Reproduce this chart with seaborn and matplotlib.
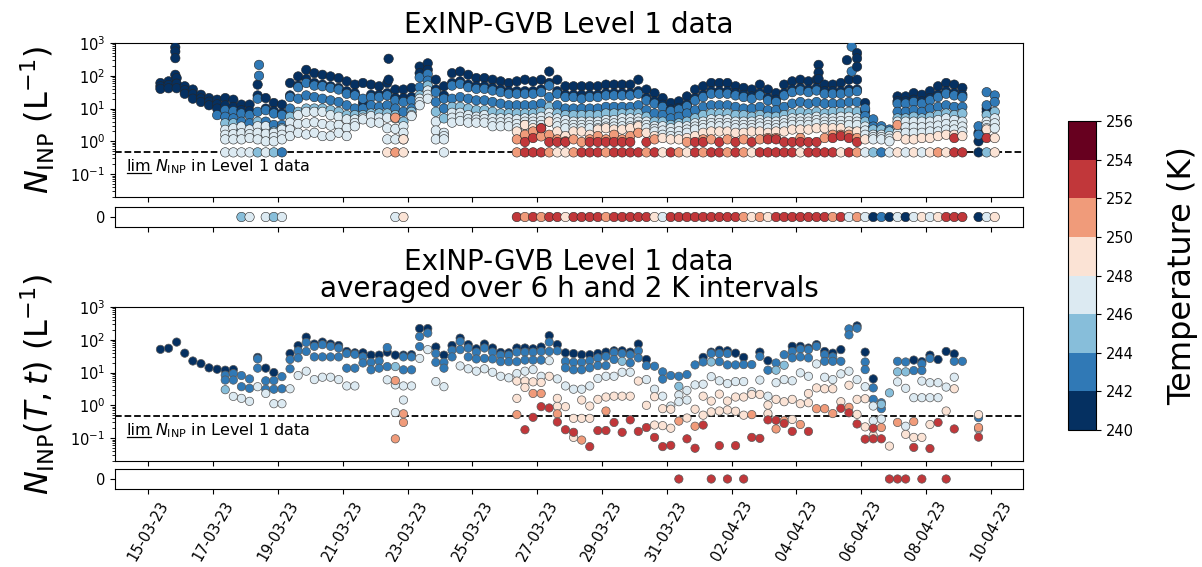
import numpy as np
import pandas as pd
import matplotlib
matplotlib.use("Agg")
import matplotlib.pyplot as plt
import matplotlib.dates as mdates
from matplotlib.colors import BoundaryNorm
from matplotlib.cm import ScalarMappable
import seaborn as sns

_ = np.nan
LIM = 0.46  # lower detection limit of N_INP in Level 1 data (L^-1)

# ---------------- Level 1 data (top panel): log10 N_INP per 6-h slot, per temperature level
l1_nh = [1.78, 1.83, 1.93, 1.68, 1.58, 1.42, 1.32, 1.27, 1.32, 1.27,
         1.12, 1.12, 1.73, 1.32, 1.17, 1.12, 1.78, 1.98, 2.18, 2.08,
         2.03, 1.98, 1.93, 1.83, 1.73, 1.78, 1.73, 1.68, 1.78, 1.58,
         1.58, 1.63, 2.28, 2.38, 1.88, 1.68, 2.08, 2.13, 2.03, 1.93,
         1.93, 1.88, 1.83, 1.78, 1.83, 1.88, 1.83, 1.88, 2.13, 1.88,
         1.68, 1.68, 1.68, 1.68, 1.68, 1.73, 1.73, 1.73, 1.73, 1.88,
         1.58, 1.47, 1.32, 1.17, 1.22, 1.37, 1.58, 1.68, 1.78, 1.78,
         1.78, 1.68, 1.63, 1.58, 1.73, 1.58, 1.47, 1.73, 1.83, 1.88,
         1.83, 1.88, 1.73, 1.73, 1.78, 1.88, 1.88, 1.17, _, _,
         _, 1.37, 1.37, 1.47, 1.42, 1.53, 1.68, 1.78, 1.73, 1.63,
         _, 0.26, 1.0, _]
l1_nm = [1.68, 1.72, 1.76, 1.56, 1.44, 1.31, 1.21, 1.13, _, _,
         _, _, _, _, _, _, _, _, _, _,
         _, _, _, _, _, _, _, _, _, _,
         _, _, _, _, _, _, _, _, _, _,
         _, _, _, _, _, _, _, _, _, _,
         _, _, _, _, _, _, _, _, _, _,
         _, _, _, _, _, _, _, _, _, _,
         _, _, _, _, _, _, _, _, _, _,
         _, _, _, _, _, _, _, _, _, _,
         _, _, _, _, _, _, _, _, _, _,
         _, _, _, _]
l1_nl = [1.60, 1.62, 1.62, 1.45, 1.30, 1.20, 1.10, 1.00, 1.10, 1.05,
         0.95, 0.92, 1.40, 1.00, 0.92, 0.85, 1.40, 1.70, 1.90, 1.78,
         1.73, 1.68, 1.63, 1.53, 1.47, 1.17, 1.42, 1.42, 1.47, 1.32,
         1.32, 1.35, 2.08, 2.18, 1.58, 1.40, 1.78, 1.83, 1.73, 1.68,
         1.68, 1.63, 1.58, 1.53, 1.53, 1.53, 1.53, 1.58, 1.78, 1.53,
         1.42, 1.42, 1.42, 1.42, 1.42, 1.47, 1.47, 1.47, 1.47, 1.53,
         1.32, 1.22, 1.12, 0.97, 1.02, 1.12, 1.32, 1.42, 1.53, 1.53,
         1.53, 1.47, 1.42, 1.37, 1.47, 1.32, 1.27, 1.47, 1.58, 1.63,
         1.58, 1.63, 1.53, 1.53, 1.53, 1.58, 1.58, 0.92, _, _,
         _, 1.22, 1.22, 1.27, 1.22, 1.32, 1.42, 1.53, 1.47, 1.42,
         _, 0.0, 0.9, _]
l1_bh = [_, _, _, _, _, _, _, 0.80, 0.95, 0.92,
         0.85, 0.80, 1.30, 0.95, 0.85, 0.80, 1.35, 1.65, 1.78, 1.70,
         1.68, 1.63, 1.58, 1.45, 1.40, 1.30, 1.35, 1.35, 1.40, 1.25,
         1.20, 1.25, 1.95, 2.05, 1.50, 1.30, 1.70, 1.75, 1.65, 1.60,
         1.60, 1.55, 1.50, 1.45, 1.45, 1.45, 1.45, 1.50, 1.70, 1.45,
         1.35, 1.35, 1.30, 1.35, 1.35, 1.40, 1.40, 1.40, 1.40, 1.45,
         1.25, 1.15, 1.05, 0.92, 0.97, 1.07, 1.25, 1.35, 1.45, 1.45,
         1.45, 1.40, 1.35, 1.30, 1.40, 1.25, 1.20, 1.40, 1.50, 1.55,
         1.50, 1.55, 1.45, 1.45, 1.45, 1.50, 1.53, 1.00, 0.67, 0.46,
         0.36, 1.15, 1.15, 1.20, 1.15, 1.25, 1.35, 1.45, 1.40, 1.35,
         _, 0.46, 1.50, 1.40]
l1_bl = [_, _, _, _, _, _, _, _, 0.75, 0.70,
         0.60, 0.55, 0.90, 0.60, 0.50, 0.50, 1.00, 1.30, 1.40, 1.35,
         1.30, 1.25, 1.20, 1.10, 1.00, 1.00, 1.10, 1.05, 1.10, 1.00,
         0.90, 1.00, 1.65, 1.85, 1.20, 1.00, 1.30, 1.35, 1.30, 1.25,
         1.25, 1.20, 1.15, 1.10, 1.10, 1.10, 1.10, 1.15, 1.35, 1.10,
         1.00, 1.00, 1.00, 1.00, 1.00, 1.05, 1.05, 1.05, 1.05, 1.10,
         0.95, 0.85, 0.80, 0.70, 0.75, 0.85, 0.95, 1.05, 1.10, 1.10,
         1.10, 1.05, 1.00, 1.00, 1.05, 0.95, 0.95, 1.05, 1.15, 1.20,
         1.15, 1.20, 1.15, 1.15, 1.15, 1.20, 1.20, 0.77, 0.45, 0.30,
         _, 0.90, 0.90, 0.95, 0.90, 1.00, 1.05, 1.10, 1.05, 1.05,
         _, 0.20, 1.10, 1.20]
l1_mid = [_, _, _, _, _, _, _, _, 0.55, 0.55,
          0.35, 0.30, 0.60, 0.40, 0.30, 0.40, 0.75, 0.90, 1.00, 1.00,
          1.00, 0.95, 0.90, 0.80, 0.80, 0.80, 0.85, 0.85, 0.85, 0.80,
          0.60, 0.90, 1.40, 1.70, 0.90, 0.70, 1.05, 1.05, 1.00, 0.95,
          0.95, 0.90, 0.85, 0.85, 0.85, 0.85, 0.85, 0.90, 1.05, 0.85,
          0.80, 0.80, 0.80, 0.80, 0.80, 0.85, 0.85, 0.85, 0.85, 0.85,
          0.75, 0.60, 0.60, 0.50, 0.55, 0.60, 0.70, 0.80, 0.85, 0.85,
          0.85, 0.80, 0.80, 0.75, 0.80, 0.75, 0.75, 0.80, 0.85, 0.90,
          0.85, 0.90, 0.85, 0.90, 0.90, 0.90, 0.90, 0.60, 0.36, 0.36,
          0.30, 0.70, 0.70, 0.75, 0.70, 0.75, 0.80, 0.85, 0.80, 0.85,
          _, _, 0.80, 0.90]
l1_lh = [_, _, _, _, _, _, _, _, 0.35, 0.40,
         0.45, 0.36, 0.46, 0.46, 0.26, 0.36, 0.57, 0.80, 0.90, 0.90,
         0.90, 0.80, 0.75, 0.67, 0.67, 0.72, 0.77, 0.72, 0.72, 0.70,
         0.46, 0.80, 1.30, 1.55, 0.60, 0.26, 0.87, 0.87, 0.80, 0.75,
         0.80, 0.70, 0.70, 0.70, 0.67, 0.70, 0.70, 0.75, 0.87, 0.70,
         0.65, 0.60, 0.60, 0.60, 0.60, 0.65, 0.65, 0.70, 0.70, 0.70,
         0.60, 0.46, 0.46, 0.40, 0.46, 0.46, 0.55, 0.60, 0.67, 0.67,
         0.67, 0.60, 0.60, 0.60, 0.65, 0.60, 0.60, 0.65, 0.70, 0.70,
         0.70, 0.75, 0.70, 0.70, 0.75, 0.75, 0.70, 0.45, 0.20, 0.20,
         0.16, 0.60, 0.60, 0.60, 0.60, 0.60, 0.65, 0.70, 0.65, 0.60,
         _, _, 0.60, 0.70]
l1_lm = [_, _, _, _, _, _, _, _, 0.20, 0.22,
         0.25, 0.22, 0.26, 0.23, 0.13, 0.20, 0.36, 0.53, 0.55, 0.58,
         0.53, 0.48, 0.50, 0.41, 0.56, _, _, _, 0.40, 0.38,
         0.26, _, 1.20, 1.42, 0.33, 0.16, 0.72, 0.75, 0.68, 0.66,
         0.68, 0.58, 0.58, 0.58, 0.53, 0.60, 0.60, 0.62, 0.73, 0.58,
         0.52, 0.50, 0.50, 0.50, 0.50, 0.55, 0.55, 0.58, 0.58, 0.60,
         0.50, 0.38, 0.33, 0.28, 0.31, 0.36, 0.45, 0.50, 0.56, 0.56,
         0.56, 0.50, 0.50, 0.50, 0.55, 0.50, 0.50, 0.55, 0.60, 0.60,
         0.60, 0.65, 0.60, 0.60, 0.62, 0.62, 0.60, 0.33, 0.13, 0.13,
         0.08, 0.43, 0.43, 0.43, 0.43, 0.45, 0.48, 0.53, 0.50, 0.45,
         _, _, 0.50, 0.55]
l1_ll = [_, _, _, _, _, _, _, _, 0.06, 0.06,
         0.06, 0.10, 0.06, 0.00, 0.00, 0.06, 0.16, 0.26, 0.21, 0.26,
         0.16, 0.16, 0.26, 0.16, 0.46, 0.67, 0.57, 0.57, 0.06, 0.06,
         0.06, 0.77, 1.10, 1.30, 0.06, 0.06, 0.57, 0.62, 0.57, 0.57,
         0.57, 0.46, 0.46, 0.46, 0.40, 0.50, 0.50, 0.50, 0.60, 0.46,
         0.40, 0.40, 0.40, 0.40, 0.40, 0.45, 0.45, 0.46, 0.46, 0.50,
         0.40, 0.30, 0.20, 0.16, 0.16, 0.26, 0.36, 0.40, 0.46, 0.46,
         0.46, 0.40, 0.40, 0.40, 0.45, 0.40, 0.40, 0.45, 0.50, 0.50,
         0.50, 0.55, 0.50, 0.50, 0.50, 0.50, 0.50, 0.20, 0.06, 0.06,
         0.00, 0.26, 0.26, 0.26, 0.26, 0.30, 0.30, 0.36, 0.36, 0.30,
         _, _, 0.40, 0.40]
l1_pe = [_, _, _, _, _, _, _, _, _, _,
         _, _, _, _, _, _, _, _, _, _,
         _, _, _, _, _, _, _, _, _, _,
         0.06, _, _, _, _, _, _, _, _, _,
         _, _, _, _, 0.30, 0.50, 0.40, 0.40, 0.60, 0.30,
         0.16, 0.30, 0.30, 0.20, 0.36, 0.40, 0.36, 0.36, 0.40, 0.46,
         0.26, 0.16, 0.10, 0.06, 0.06, 0.10, 0.16, 0.26, 0.30, 0.30,
         0.30, 0.26, 0.26, 0.30, 0.30, 0.26, 0.30, 0.30, 0.36, 0.36,
         0.36, 0.40, 0.40, 0.40, 0.40, 0.30, 0.30, 0.06, _, _,
         _, 0.16, 0.06, 0.06, 0.10, 0.10, 0.16, 0.20, 0.20, 0.16,
         _, _, 0.36, 0.10]
l1_sa = [_, _, _, _, _, _, _, _, _, _,
         _, _, _, _, _, _, _, _, _, _,
         _, _, _, _, _, _, _, _, _, 0.72,
         _, _, _, _, _, _, _, _, _, _,
         _, _, _, _, 0.06, 0.20, 0.30, 0.15, 0.20, 0.06,
         0.00, 0.06, -0.02, 0.06, 0.16, 0.06, 0.20, 0.06, 0.16, 0.26,
         _, 0.06, _, _, _, -0.02, _, 0.06, 0.06, _,
         0.06, _, 0.06, _, 0.06, 0.10, 0.10, _, _, 0.10,
         _, _, 0.10, 0.20, 0.20, 0.20, 0.10, _, _, _,
         _, 0.50, _, _, _, _, _, _, _, _,
         _, _, _, _]
l1_re = [_, _, _, _, _, _, _, _, _, _,
         _, _, _, _, _, _, _, _, _, _,
         _, _, _, _, _, _, _, _, _, _,
         _, _, _, _, _, _, _, _, _, _,
         _, _, _, _, _, -0.02, 0.10, 0.40, -0.02, -0.02,
         -0.02, _, _, -0.02, -0.02, -0.02, -0.02, -0.02, -0.02, _,
         -0.02, _, _, _, _, _, -0.02, -0.02, _, -0.02,
         _, -0.02, _, -0.02, _, 0.06, 0.06, -0.02, -0.02, -0.02,
         -0.02, -0.02, _, 0.10, 0.16, 0.10, -0.02, _, _, _,
         _, _, _, _, _, _, _, _, 0.10, _,
         _, _, 0.10, _]
# temperature (K) of Level 1 points sitting at the detection limit, per slot
l1_lim_T = [_, _, _, _, _, _, _, _, 247, 247,
            247, 247, 245, 247, 245, 243, _, _, _, _,
            _, _, _, _, _, _, _, _, 249, 251,
            249, _, _, _, _, 247, _, _, _, _,
            _, _, _, _, 251, 253, 253, 253, 251, 249,
            249, 251, 253, 253, 253, 251, 253, 253, 253, 253,
            251, 253, 249, 253, 251, 249, 253, 251, 253, 253,
            251, 253, 251, 249, 253, 253, 253, 253, 253, 249,
            253, 253, 253, 253, 249, 253, 251, 247, 245, 243,
            247, 249, 247, 249, 247, 249, 251, 249, 253, 253,
            _, 241, 245, 249]
# temperature (K) of Level 1 points with N_INP = 0, per slot
l1_zero_T = [_, _, _, _, _, _, _, _, _, _,
             245, 247, _, 247, 245, 247, _, _, _, _,
             _, _, _, _, _, _, _, _, _, 247,
             249, _, _, _, _, _, _, _, _, _,
             _, _, _, _, 253, 251, 253, 251, 253, 253,
             249, 253, 253, 253, 253, 251, 253, 253, 253, 253,
             253, 249, 247, 253, 253, 253, 253, 253, 253, 253,
             253, 253, 251, 249, 251, 249, 253, 253, 253, 253,
             253, 253, 253, 251, 253, 247, 251, 247, 241, 243,
             241, 247, 241, 247, 249, 247, 249, 253, 253, 253,
             _, 241, 247, 249]
# short spikes in Level 1 data
spike_time = ['2023-03-15 20:00', '2023-03-15 20:00', '2023-03-15 20:00', '2023-03-15 20:00',
              '2023-03-18 10:00', '2023-03-18 10:00', '2023-03-22 10:00', '2023-03-22 10:00',
              '2023-04-04 16:30', '2023-04-04 16:30', '2023-04-04 16:30',
              '2023-04-05 13:30', '2023-04-05 17:00', '2023-04-05 17:00',
              '2023-04-05 21:00', '2023-04-05 21:00', '2023-04-05 21:00']
spike_N = [740, 550, 345, 107, 215, 100, 330, 76, 215, 125, 80, 300, 775, 135, 490, 340, 190]
spike_T = [241, 241, 241, 241, 243, 243, 241, 241, 241, 241, 241, 241, 243, 243, 241, 241, 241]

# ---------------- averaged data (bottom panel): N_INP (L^-1) per 6-h slot and 2-K interval
avg_241 = [51, 55, 85, 39, 22.5, 18.7, 13.9, 12.6, 11.8, 12.3,
           _, _, 29, 13.6, 10, _, 38, 66, 120, 74,
           85, 74, 67, 44, 40, 40, 34, 34, 42, 34,
           34, 35, 220, 220, 60, 34, 67, 112, 71, 53,
           74, 56, 41, 40, 56, 56, 53, 60, 133, 71,
           40, 38, 35, 35, 38, 42, 46, 46, 42, 74,
           25, _, _, _, _, _, _, 29, 42, 48,
           46, 39, 29, _, 42, 23, _, _, 63, 63,
           56, 71, 44, 39, 50, _, 265, 42, 6.4, _,
           _, _, _, 24, 21.5, 34, 25, 44, 37, _,
           _, _]
avg_242 = [_, _, _, _, _, _, _, _, 8.3, 9.3,
           8.1, 6.4, 26, 5.6, 5.7, 7.5, 25, 46, 83, 63,
           71, 63, 56, 38, 36, 30, 20.5, 22.5, 58, _,
           30, 30, 126, 160, 38, 20.5, 48, 89, 56, 42,
           56, 42, 34, 34, 42, 42, 42, 44, 85, 46,
           22, 20.5, 20.5, 23, 28, 31, 41, 38, 35, 46,
           16.3, 15.6, 10.5, 8.1, 7.7, 8.7, 17.1, 21, 38, 38,
           38, _, _, _, 31, _, 19.6, 35, 44, 52,
           50, 63, 35, 30, _, 215, 226, 21, 3.4, 0.79,
           _, 22, 21, 11.5, 18.3, 27, _, _, 22, 22,
           _, 0.42]
avg_243 = [_, _, _, _, _, _, _, _, 5.9, 5.9,
           3.7, 3.3, 13.6, 3.1, 3.1, 3.2, 13, 28, 44, 30,
           30, 30, 30, 13.6, 13.6, 19.6, 12.1, 13.6, 15.2, _,
           12.1, 12.1, 62, _, 20.5, 13.6, 30, 50, 30, 26,
           27, 26, 21.5, 21.5, 21.5, 24, 24, 24, 44, _,
           13.9, 12.1, 12.1, 13.9, 16.3, 16.3, 25, _, 19.6, 28,
           _, _, 6.3, _, _, _, _, _, _, 21.5,
           17.1, 17.1, 17.5, 17.5, _, 11.8, _, _, 28, 30,
           28, _, 22, 22, 22, 141, _, 12.3, 1.52, 1.2,
           _, _, _, _, 11.5, _, _, _, _, _,
           _, _]
avg_245 = [_, _, _, _, _, _, _, _, 3.0, _,
           _, _, _, _, _, _, _, _, _, _,
           _, _, _, _, _, _, _, _, _, 15.2,
           _, _, _, _, _, _, _, _, _, _,
           _, _, _, _, _, _, _, _, _, _,
           _, _, _, _, _, _, _, 22, _, _,
           _, _, _, _, 3.8, _, _, _, 21, _,
           _, _, _, _, _, _, 11.8, 16.7, _, _,
           _, _, _, _, _, _, _, _, _, 1.07,
           2.4, 10.5, 10.5, _, _, _, _, _, _, _,
           _, _]
avg_247 = [_, _, _, _, _, _, _, _, _, 1.87,
           1.63, 1.32, 3.7, 2.3, 1.12, 1.12, 3.2, 8.1, 11, 6.1,
           7.2, 7.2, 6.1, 3.9, 3.9, _, _, _, 6.0, 4.2,
           3.9, 3.9, 27, 50, 5.3, 3.7, _, 15.9, 13, 11,
           13, 10.2, 7.7, 6.9, 9.3, 11, 12.3, 7.7, 23, 6.4,
           3.9, 3.1, 3.1, 3.9, 6.6, 7.7, 7.7, 10.2, 10.2, _,
           6.1, 3.1, 1.9, 0.95, 2.06, 2.85, 4.2, 4.4, 7.5, 5.6,
           4.6, 5.3, 5.3, 2.6, 5.9, 1.9, 4.9, 6.1, 5.6, 9.8,
           7.7, 18.3, 7.2, 6.1, 9.1, 11, 6.1, 3.7, 0.95, 0.38,
           _, 5.2, 3.3, 1.71, 5.5, 4.9, 4.9, 3.6, 7.2, _,
           _, 0.19]
avg_247b = [_, _, _, _, _, _, _, _, _, _,
            _, _, _, _, _, _, _, _, _, _,
            _, _, _, _, _, _, _, _, _, 0.6,
            1.45, _, _, _, _, _, _, _, _, _,
            _, _, _, _, _, _, _, _, _, _,
            _, _, _, _, _, _, _, _, _, _,
            _, _, _, _, 1.29, 1.45, _, _, _, _,
            _, _, _, _, _, _, _, _, _, _,
            _, _, _, _, _, _, _, _, 0.34, _,
            _, _, 0.23, _, 1.71, 1.71, 1.71, _, _, _,
            _, _]
avg_249 = [_, _, _, _, _, _, _, _, _, _,
           _, _, _, _, _, _, _, _, _, _,
           _, _, _, _, _, _, _, _, _, _,
           _, _, _, _, _, _, _, _, _, _,
           _, _, _, _, 5.5, 5.5, 5.2, 5.0, 7.7, 1.63,
           0.91, 0.40, 1.45, 0.95, 1.52, 1.79, 1.9, 1.9, 1.9, 5.5,
           1.0, 1.83, 0.79, 0.76, _, 0.41, 0.76, 1.9, 1.35, 2.2,
           1.35, 1.79, 1.79, 2.15, 2.15, 1.02, 1.52, 1.29, 1.52, 1.12,
           2.3, 3.4, 3.2, 3.2, 1.29, 4.1, 1.52, 1.59, 0.12, _,
           0.057, _, 0.13, 0.105, 0.105, 0.26, _, 0.67, 3.2, _,
           _, 0.52]
avg_249b = [_, _, _, _, _, _, _, _, _, _,
            _, _, _, _, _, _, _, _, _, _,
            _, _, _, _, _, _, _, _, _, _,
            _, _, _, _, _, _, _, _, _, _,
            _, _, _, _, 1.63, 3.5, _, _, _, 0.93,
            _, 0.105, 0.40, 0.40, _, _, _, _, _, _,
            _, 0.25, 0.24, 0.20, _, _, _, 0.5, 0.63, 0.67,
            0.72, 0.66, 0.5, _, _, 0.56, _, _, 0.37, _,
            1.2, _, _, _, _, _, 0.53, 0.22, _, _,
            _, _, _, _, _, _, _, _, _, _,
            _, _]
avg_251 = [_, _, _, _, _, _, _, _, _, _,
           _, _, _, _, _, _, _, _, _, _,
           _, _, _, _, _, _, _, _, _, 5.7,
           0.55, _, _, _, _, _, _, _, _, _,
           _, _, _, _, 0.52, _, 2.3, 2.3, _, 0.55,
           _, _, 0.087, _, _, 0.67, _, _, _, _,
           _, _, _, _, 0.33, _, 0.23, _, _, _,
           _, _, _, 0.52, _, _, 0.19, 0.34, _, 0.26,
           _, 0.79, 0.79, 0.56, _, 0.87, _, _, _, 0.21,
           _, 0.30, _, 0.32, _, _, _, _, _, _,
           _, 0.21]
avg_251b = [_, _, _, _, _, _, _, _, _, _,
            _, _, _, _, _, _, _, _, _, _,
            _, _, _, _, _, _, _, _, _, 0.095,
            0.30, _, _, _, _, _, _, _, _, _,
            _, _, _, _, _, _, _, _, _, _,
            _, _, _, _, _, _, _, _, _, _,
            _, _, _, _, _, _, _, _, _, _,
            _, _, _, _, _, _, _, _, _, _,
            _, _, _, _, _, _, _, _, _, _,
            _, _, _, _, _, _, _, _, _, _,
            _, _]
avg_253 = [_, _, _, _, _, _, _, _, _, _,
           _, _, _, _, _, _, _, _, _, _,
           _, _, _, _, _, _, _, _, _, _,
           _, _, _, _, _, _, _, _, _, _,
           _, _, _, _, _, 0.18, 0.43, 0.91, 0.83, 0.31,
           0.18, 0.15, _, 0.055, 0.17, 0.17, 0.30, 0.15, 0.36, 0.16,
           0.21, 0.105, 0.055, 0.06, _, 0.095, 0.049, 0.25, _, 0.059,
           _, 0.059, _, 0.105, 0.098, 0.36, 0.35, 0.28, 0.16, _,
           0.16, _, _, _, 0.81, 0.59, 0.27, 0.093, 0.20, 0.095,
           _, _, _, 0.052, _, 0.048, 0.30, _, 0.19, _,
           _, 0.107]
avg_253b = [_, _, _, _, _, _, _, _, _, _,
            _, _, _, _, _, _, _, _, _, _,
            _, _, _, _, _, _, _, _, _, _,
            _, _, _, _, _, _, _, _, _, _,
            _, _, _, _, _, _, _, _, _, _,
            _, _, _, _, _, _, _, _, _, _,
            _, _, _, _, _, _, _, _, _, _,
            _, _, _, _, _, _, _, _, _, _,
            _, _, _, _, _, _, _, _, 0.095, _,
            _, _, _, _, _, _, _, _, _, _,
            _, _]
# temperature of averaged points with N_INP = 0
avg_zero_T = [_, _, _, _, _, _, _, _, _, _,
              _, _, _, _, _, _, _, _, _, _,
              _, _, _, _, _, _, _, _, _, _,
              _, _, _, _, _, _, _, _, _, _,
              _, _, _, _, _, _, _, _, _, _,
              _, _, _, _, _, _, _, _, _, _,
              _, _, _, _, 253, _, _, _, 253, _,
              253, _, 253, _, _, _, _, _, _, _,
              _, _, _, _, _, _, _, _, _, _,
              253, 253, 253, _, 253, _, _, 253, _, _,
              _, _]

x_ticks = pd.date_range('2023-03-15', '2023-04-10', freq='2D')
x_range = (pd.Timestamp('2023-03-13 23:20'), pd.Timestamp('2023-04-10 23:55'))

# ---------------- colours
cmap = plt.get_cmap('RdBu_r', 8)
bounds = np.arange(240, 257, 2)
norm = BoundaryNorm(bounds, cmap.N)

t_start = pd.Timestamp('2023-03-15 09:00')
slots_l1 = pd.date_range(t_start, periods=len(l1_nh), freq='6h')
slots_avg = pd.date_range(t_start, periods=len(avg_241), freq='6h')


def build(times, levels, log=False):
    frames = []
    for T, vals in levels:
        v = np.asarray(vals, dtype=float)
        if log:
            v = 10.0 ** v
        frames.append(pd.DataFrame({'time': times, 'N': v, 'T': float(T)}))
    return pd.concat(frames, ignore_index=True).dropna(subset=['N'])


def zero_frame(times, temps, value):
    T = np.asarray(temps, dtype=float)
    return pd.DataFrame({'time': times, 'T': T, 'N': value}).dropna(subset=['T'])


df_l1 = build(slots_l1, [(240.5, l1_nh), (241, l1_nm), (241.5, l1_nl), (242.5, l1_bh),
                         (243.5, l1_bl), (245, l1_mid), (246.5, l1_lh), (247, l1_lm),
                         (247.5, l1_ll), (249, l1_pe), (251, l1_sa), (253, l1_re)], log=True)
df_l1_lim = zero_frame(slots_l1, l1_lim_T, LIM)
df_spk = pd.DataFrame({'time': pd.to_datetime(spike_time), 'N': spike_N,
                       'T': np.asarray(spike_T, float)})
df_top = pd.concat([df_l1, df_l1_lim, df_spk], ignore_index=True).sort_values('time', kind='stable')
df_top_zero = zero_frame(slots_l1, l1_zero_T, 0.0)

df_avg = build(slots_avg, [(241, avg_241), (242.5, avg_242), (243.5, avg_243), (245, avg_245),
                           (247, avg_247), (247.5, avg_247b), (248.5, avg_249), (249.5, avg_249b),
                           (251, avg_251), (251.5, avg_251b), (253, avg_253), (253.5, avg_253b)])
df_avg = df_avg.sort_values('time', kind='stable')
df_avg_zero = zero_frame(slots_avg, avg_zero_T, 0.0)

all_T = pd.concat([df_top['T'], df_top_zero['T'], df_avg['T'], df_avg_zero['T']]).unique()
pal = {T: cmap(int(np.asarray(norm([T]))[0])) for T in all_T}

plt.rcParams['xtick.labelsize'] = 10.5
plt.rcParams['ytick.labelsize'] = 10.5

W, H = 1202, 567
fig = plt.figure(figsize=(W / 100, H / 100), dpi=100)
L, R = 115 / W, (1023 - 115) / W
ax1 = fig.add_axes([L, 1 - 197 / H, R, 154 / H])
ax1z = fig.add_axes([L, 1 - 227 / H, R, 20 / H], sharex=ax1)
ax2 = fig.add_axes([L, 1 - 461 / H, R, 154 / H], sharex=ax1)
ax2z = fig.add_axes([L, 1 - 489 / H, R, 20 / H], sharex=ax1)
cax = fig.add_axes([1068 / W, 1 - 430 / H, 28 / W, 309 / H])

kw_top = dict(hue='T', palette=pal, s=46, edgecolor='0.15', linewidth=0.4, legend=False, zorder=3)
kw_bot = dict(hue='T', palette=pal, s=36, edgecolor='0.35', linewidth=0.5, legend=False, zorder=3)

sns.scatterplot(data=df_top, x='time', y='N', ax=ax1, **kw_top)
sns.scatterplot(data=df_top_zero, x='time', y='N', ax=ax1z, **kw_top)
sns.scatterplot(data=df_avg, x='time', y='N', ax=ax2, **kw_bot)
sns.scatterplot(data=df_avg_zero, x='time', y='N', ax=ax2z, **kw_bot)

for ax in (ax1, ax2):
    ax.set_yscale('log')
    ax.set_ylim(0.02, 1000)
    ax.axhline(LIM, color='k', ls='--', lw=1.3, zorder=1)

for ax in (ax1z, ax2z):
    ax.set_ylim(-1, 1)
    ax.set_yticks([0])
    ax.set_ylabel('')

for ax in (ax1, ax1z, ax2, ax2z):
    ax.set_xlabel('')

ax1.set_ylabel(r'$N_{\mathrm{INP}}$ (L$^{-1}$)', fontsize=23, labelpad=10)
ax2.set_ylabel(r'$N_{\mathrm{INP}}(T,t)$ (L$^{-1}$)', fontsize=23, labelpad=10)
fig.align_ylabels([ax1, ax2])

ax1.set_title('ExINP-GVB Level 1 data', fontsize=20, pad=7)
ax2.set_title('ExINP-GVB Level 1 data\naveraged over 6 h and 2 K intervals',
              fontsize=20, pad=7, linespacing=0.95)

ax2z.set_xticks(x_ticks)
ax2z.xaxis.set_major_formatter(mdates.DateFormatter('%d-%m-%y'))
ax2z.set_xlim(*x_range)
for ax in (ax1, ax1z, ax2):
    ax.tick_params(axis='x', labelbottom=False)
plt.setp(ax2z.get_xticklabels(), rotation=60)

cb = fig.colorbar(ScalarMappable(norm=norm, cmap=cmap), cax=cax, ticks=bounds)
cb.set_label('Temperature (K)', fontsize=23, labelpad=24)

# "lim N_INP in Level 1 data" with underlined "lim"
renderer = fig.canvas.get_renderer()
for ax in (ax1, ax2):
    t_lim = ax.text(0.013, 0.17, 'lim', transform=ax.transAxes, fontsize=11.5, va='baseline')
    bb = t_lim.get_window_extent(renderer)
    inv = ax.transAxes.inverted()
    (xa, yb), (xb, _y) = inv.transform([(bb.x0, bb.y0), (bb.x1, bb.y0)])
    base = ax.transAxes.transform((0, 0.17))[1]
    yu = inv.transform((0, base - 2.5))[1]
    ax.plot([xa, xb], [yu, yu], color='k', lw=0.9, transform=ax.transAxes, clip_on=False)
    gap = inv.transform((bb.x1 + 4, 0))[0]
    ax.text(gap, 0.17, r'$N_{\mathrm{INP}}$ in Level 1 data', transform=ax.transAxes,
            fontsize=11.5, va='baseline')

fig.savefig('out.png', dpi=100)
